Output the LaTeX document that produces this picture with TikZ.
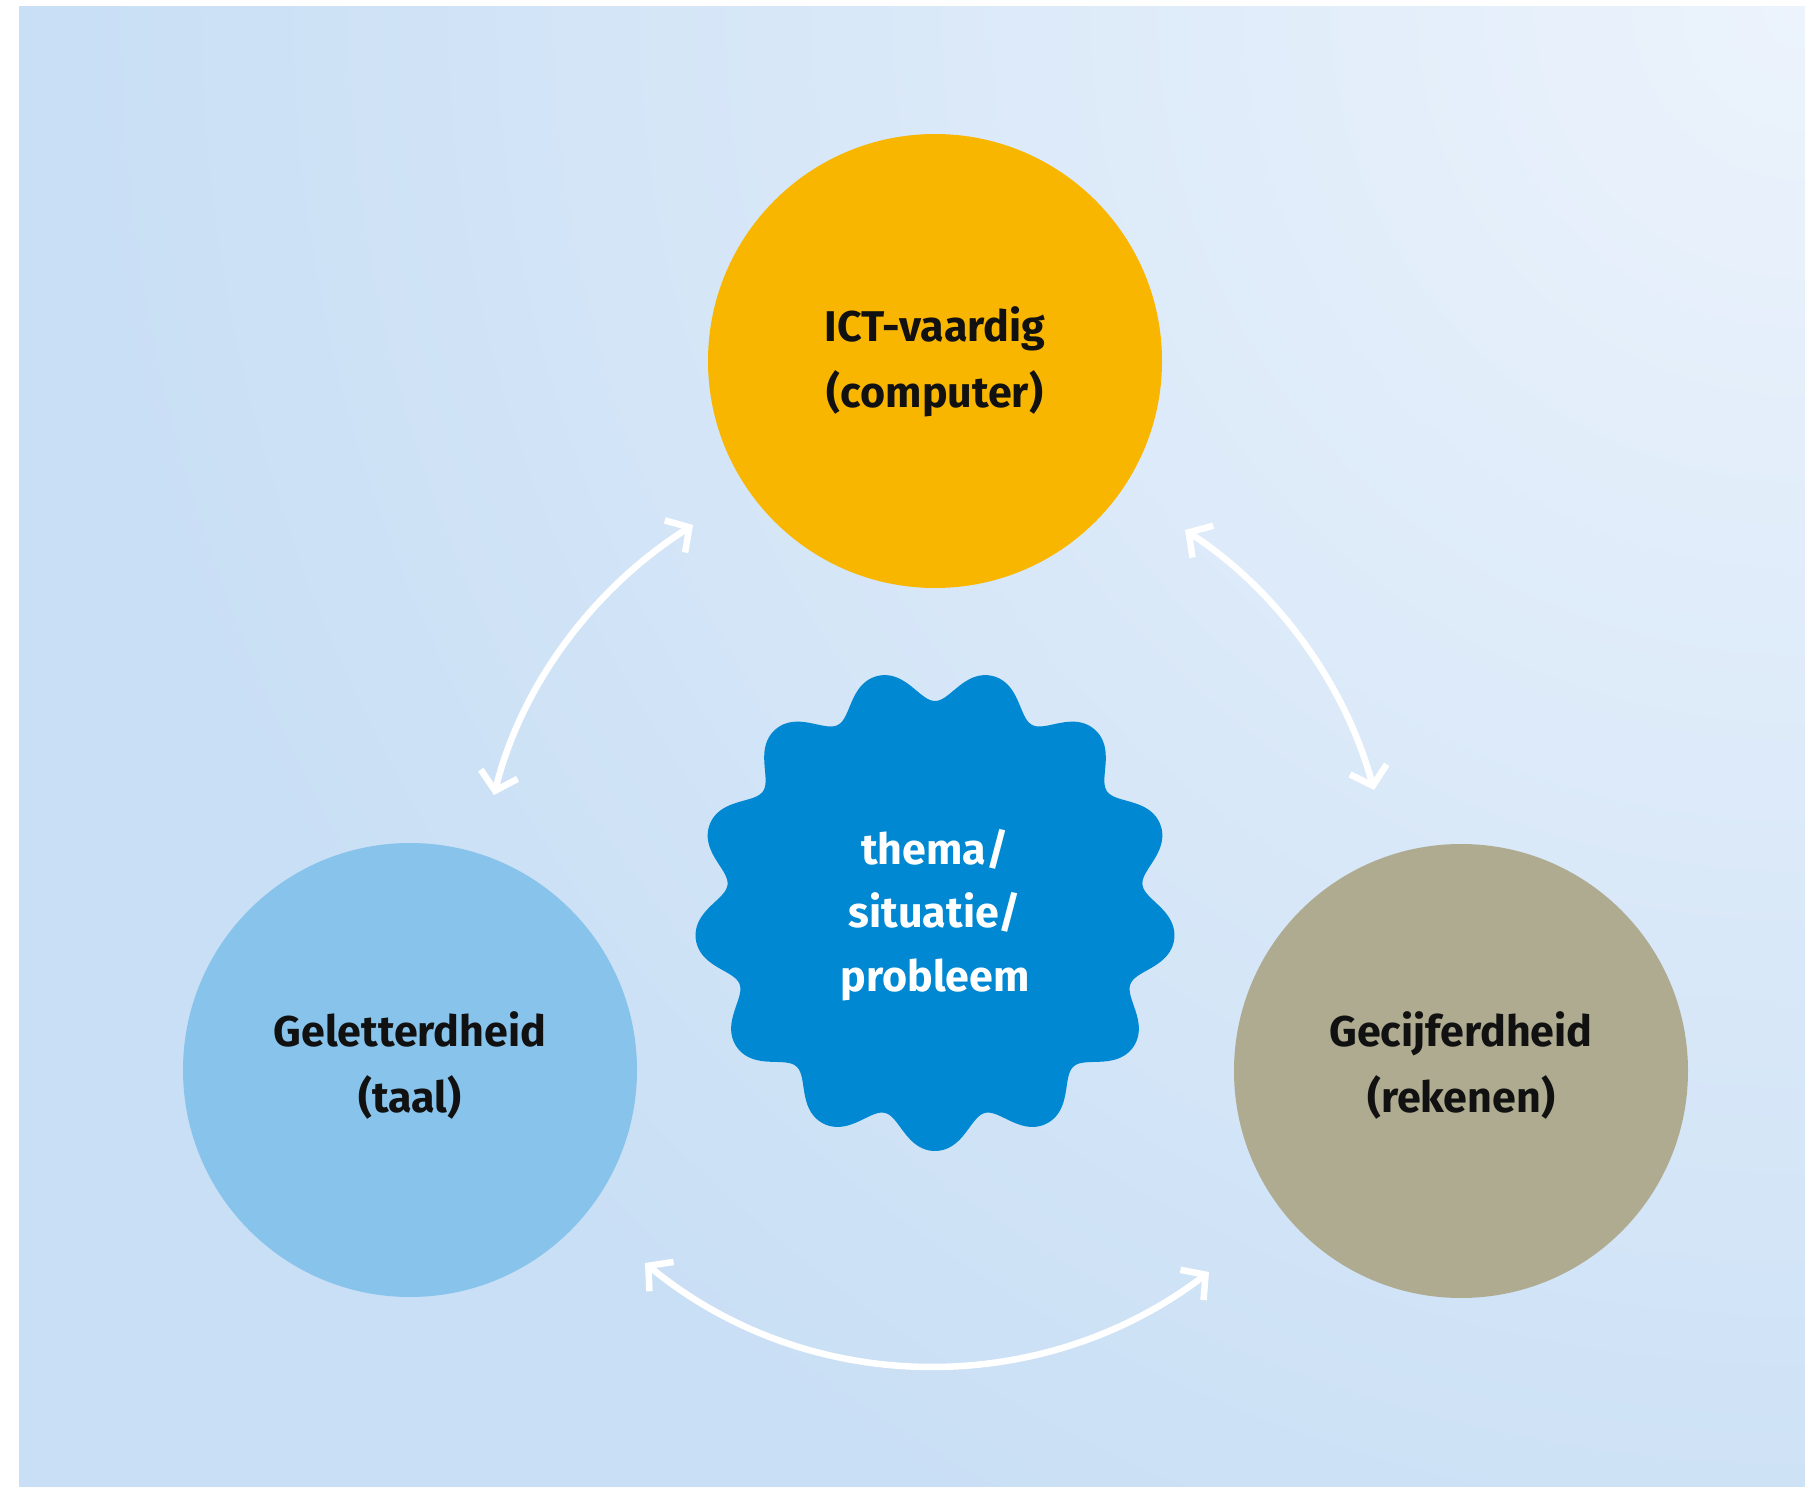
\documentclass[tikz,border=0pt]{standalone}
\usepackage{fontspec}
\setmainfont{Fira Sans}
\usetikzlibrary{arrows.meta}
\definecolor{bgbase}{HTML}{C9DFF5}
\definecolor{bglight}{HTML}{ECF3FC}
\definecolor{ictorange}{HTML}{F9B600}
\definecolor{taalblue}{HTML}{87C3EA}
\definecolor{rekenkhaki}{HTML}{AEAB91}
\definecolor{gearblue}{HTML}{0088D2}
\definecolor{txtdark}{HTML}{111111}
\pgfdeclareradialshading{bgglow}{\pgfpoint{0bp}{0bp}}{%
  color(0bp)=(bglight); color(18bp)=(bgbase); color(50bp)=(bgbase)}
\begin{document}
\begin{tikzpicture}[x=1pt,y=-1pt,
  skill/.style={circle, minimum size=454pt, inner sep=0pt},
  skilltext/.style={align=center, inner sep=0pt,
    font=\fontsize{43}{66}\selectfont\bfseries, text=txtdark},
  gearlabel/.style={align=center, text=white, inner sep=0pt,
    font=\fontsize{43}{63.5}\selectfont\bfseries},
  link/.style={white, line width=6.5pt,
    {Straight Barb[length=17pt,width=38pt]}-{Straight Barb[length=17pt,width=38pt]}}
]
\useasboundingbox (0,0) rectangle (1805,1487);
\fill[white] (0,0) rectangle (1805,1487);
\begin{scope}
  \clip (19,7) rectangle (1805,1487);
  \fill[bgbase] (19,7) rectangle (1805,1487);
  \shade[shading=bgglow] (1805,7) circle (2400pt);
\end{scope}

% circles
\node[skill, fill=ictorange]  (ict)  at (935,361)  {};
\node[skill, fill=taalblue]   (taal) at (410,1070) {};
\node[skill, fill=rekenkhaki] (rek)  at (1461,1071) {};
\node[skilltext] (icttext)  at (935,362)   {ICT-vaardig\\(computer)};
\node[skilltext] (taaltext) at (410,1065)  {Geletterdheid\\(taal)};
\node[skilltext] (rektext)  at (1461,1065) {Gecijferdheid\\(rekenen)};

% gear
\fill[gearblue] plot[domain=0:360, samples=500, smooth, variable=\t]
  ({935+(226.6+16*(cos(13*(\t-90))-0.1*cos(26*(\t-90))))*cos(\t)},
   {910+(226.6+16*(cos(13*(\t-90))-0.1*cos(26*(\t-90))))*sin(\t)}) -- cycle;
\node[gearlabel] (gear) at (935,915) {thema/\\situatie/\\probleem};

% arrow end points (on a circle of radius 455 round the gear)
\coordinate (a1s) at (494,795);
\coordinate (a1e) at (693,525);
\coordinate (a2s) at (1185,530);
\coordinate (a2e) at (1374,790);
\coordinate (a3s) at (645,1263);
\coordinate (a3e) at (1209,1272);

\draw[link] (a1s) .. controls (522,683) and (595,587) .. (a1e);
\draw[link] (a2s) .. controls (1277,590) and (1345,684) .. (a2e);
\draw[link] (a3s) .. controls (808,1397) and (1041,1400) .. (a3e);
\end{tikzpicture}
\end{document}
